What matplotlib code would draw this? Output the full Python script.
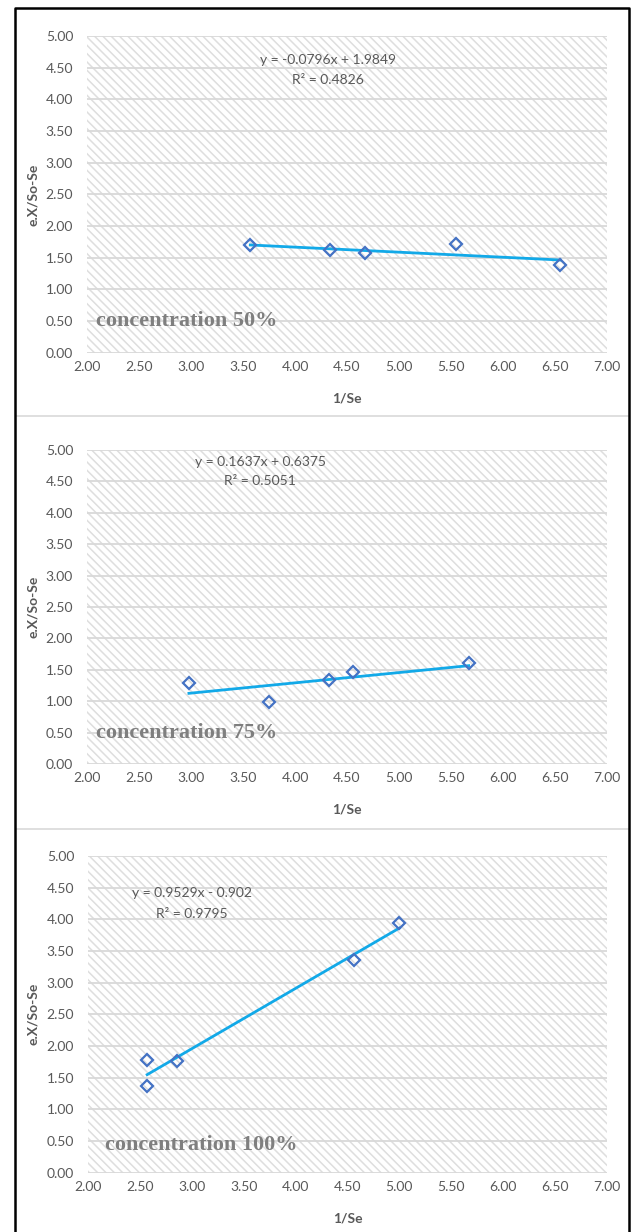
import matplotlib
matplotlib.use('Agg')
import matplotlib.pyplot as plt
from matplotlib.patches import Rectangle
from matplotlib.lines import Line2D
import numpy as np

# data
x50 = [3.57, 4.34, 4.67, 5.55, 6.55]
y50 = [1.70, 1.62, 1.57, 1.72, 1.38]
x75 = [2.98, 3.75, 4.33, 4.56, 5.67]
y75 = [1.29, 0.98, 1.34, 1.46, 1.61]
x100 = [2.57, 2.57, 2.86, 4.56, 5.00]
y100 = [1.78, 1.36, 1.76, 3.36, 3.94]

slopes = [-0.0796, 0.1637, 0.9529]
intercepts = [1.9849, 0.6375, -0.902]
r2 = [0.4826, 0.5051, 0.9795]
eq_texts = ['y = -0.0796x + 1.9849', 'y = 0.1637x + 0.6375', 'y = 0.9529x - 0.902']
labels = ['concentration 50%', 'concentration 75%', 'concentration 100%']
xticks = np.arange(2.0, 7.01, 0.5)
yticks = np.arange(0.0, 5.01, 0.5)

W, H = 636, 1232
plt.rcParams['font.family'] = ['Lato', 'DejaVu Sans']
plt.rcParams['hatch.linewidth'] = 1.1

fig = plt.figure(figsize=(W / 100, H / 100), dpi=100)

# axes boxes in pixels: left, top, right, bottom
boxes = [(87, 36, 607, 352.7), (87, 450, 607, 764), (88, 856, 607, 1172.6)]
eq_pos = [(0.463, 0.924, 0.861), (0.333, 0.962, 0.901), (0.2, 0.884, 0.817)]
lab_pos = [(0.017, 0.1), (0.017, 0.098), (0.033, 0.087)]
series = [(x50, y50), (x75, y75), (x100, y100)]

grey = '#595959'
for i, (l, t, r, b) in enumerate(boxes):
    ax = fig.add_axes([l / W, 1 - b / H, (r - l) / W, (b - t) / H])
    ax.set_facecolor('white')
    ax.add_patch(Rectangle((0, 0), 1, 1, transform=ax.transAxes, facecolor='white',
                           edgecolor='#dedede', hatch='\\\\\\\\', lw=0, zorder=0))
    ax.set_xlim(2, 7)
    ax.set_ylim(0, 5)
    ax.set_xticks(xticks)
    ax.set_yticks(yticks)
    ax.set_xticklabels(['%.2f' % v for v in xticks])
    ax.set_yticklabels(['%.2f' % v for v in yticks])
    ax.tick_params(length=0, colors=grey, labelsize=10)
    ax.tick_params(axis='y', pad=10)
    ax.tick_params(axis='x', pad=6)
    ax.yaxis.grid(True, color='#d9d9d9', lw=1.3, zorder=1)
    ax.set_axisbelow(True)
    for s in ax.spines.values():
        s.set_visible(False)

    xs, ys = series[i]
    xl = np.array([min(xs), max(xs)])
    ax.plot(xl, slopes[i] * xl + intercepts[i], color='#12a9e8', lw=2.0, zorder=3)
    ax.plot(xs, ys, ls='none', marker='D', ms=6.5, mfc='none', mec='#4472c4',
            mew=1.6, zorder=4)

    cx, ey1, ey2 = eq_pos[i]
    ax.text(cx, ey1, eq_texts[i], transform=ax.transAxes, ha='center', va='center',
            color=grey, fontsize=10)
    ax.text(cx, ey2, 'R² = %.4f' % r2[i], transform=ax.transAxes, ha='center',
            va='center', color=grey, fontsize=10)
    lx, ly = lab_pos[i]
    ax.text(lx, ly, labels[i], transform=ax.transAxes, ha='left', va='center',
            color='#7f7f7f', fontsize=16, fontweight='bold', family='Liberation Serif')

    ax.set_xlabel('1/Se', color=grey, fontsize=10, fontweight='bold', va='center')
    ax.xaxis.set_label_coords(0.5, -45.5 / (b - t))
    ax.set_ylabel('e.X/So-Se', color=grey, fontsize=10, fontweight='bold', va='center')
    ax.yaxis.set_label_coords(-(l - 33) / (r - l), 0.5)

# panel separators and outer frame
for yy in [416, 829]:
    fig.add_artist(Line2D([16 / W, 628 / W], [1 - yy / H, 1 - yy / H], color='#d9d9d9', lw=1.2))
fig.add_artist(Line2D([15 / W, 15 / W, 629 / W, 629 / W],
                      [0, 1 - 8 / H, 1 - 8 / H, 0], color='black', lw=1.8))

plt.savefig('out.png', dpi=100)
plt.close()
